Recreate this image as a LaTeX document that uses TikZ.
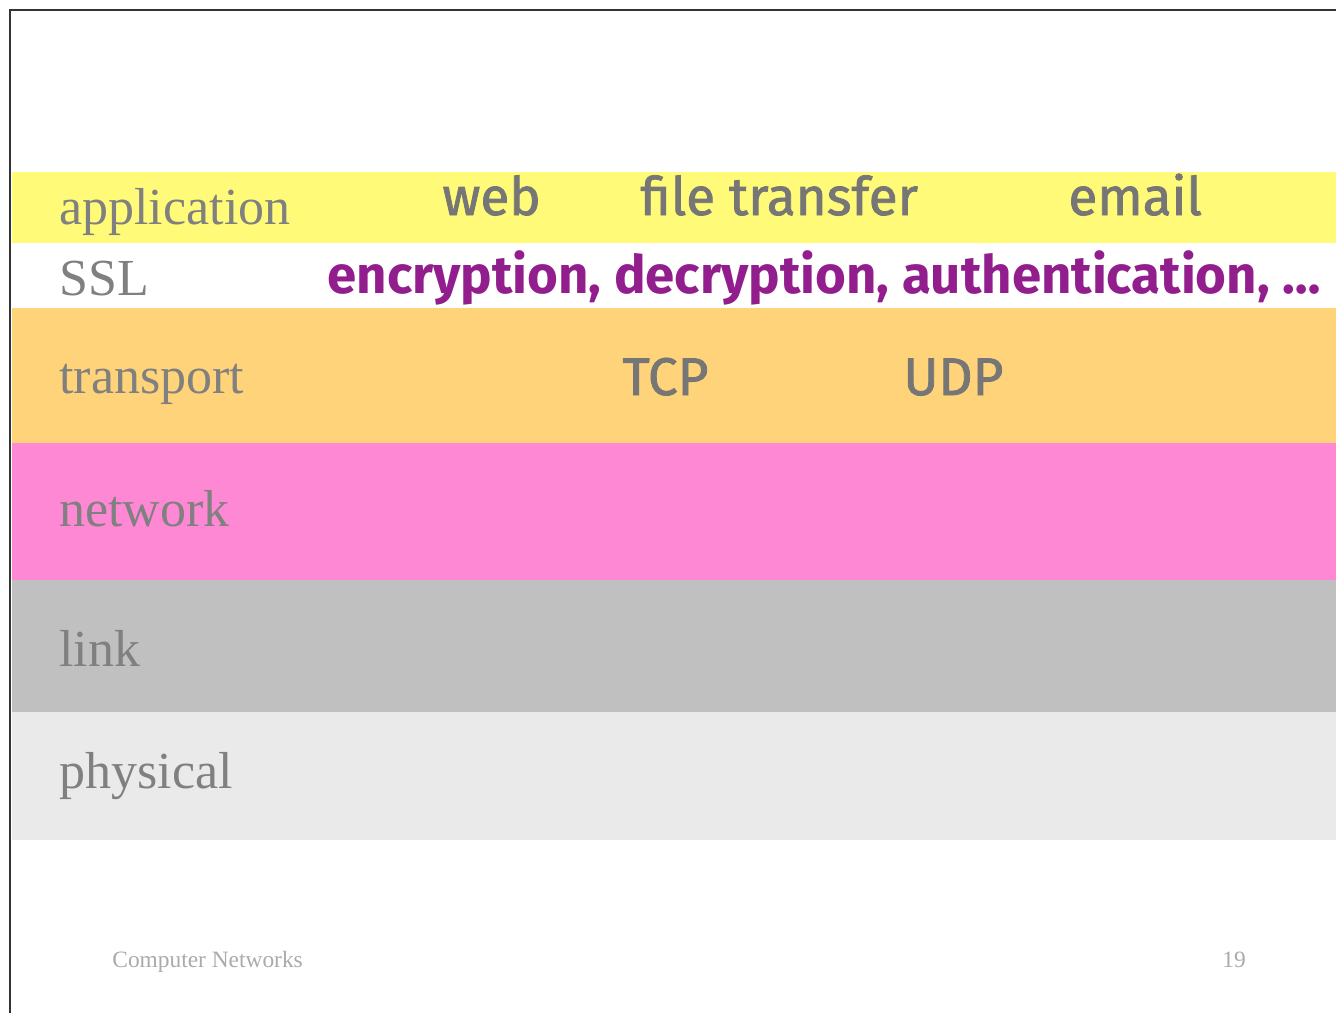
\documentclass[tikz,border=0pt]{standalone}
\usepackage{fontspec}
\setmainfont{Liberation Serif}
\newfontfamily\comicfont[FakeBold=1.5]{Fira Sans}
\newfontfamily\comicboldfont{Fira Sans}
\usetikzlibrary{positioning}
\definecolor{appyellow}{RGB}{255,250,120}
\definecolor{tporange}{RGB}{255,211,122}
\definecolor{netpink}{RGB}{255,136,213}
\definecolor{linkgray}{RGB}{192,192,192}
\definecolor{physgray}{RGB}{234,234,234}
\definecolor{labelgray}{RGB}{128,128,128}
\definecolor{protogray}{RGB}{118,118,118}
\definecolor{sslpurple}{RGB}{146,30,142}
\definecolor{footgray}{RGB}{170,170,170}
\tikzstyle{layer} = [anchor=base west, inner sep=0, text=labelgray, font=\fontsize{26}{28}\selectfont]
\tikzstyle{proto} = [anchor=base west, inner sep=0, text=protogray, font=\comicfont\fontsize{26.5}{28}\selectfont]
\tikzstyle{ssltext} = [anchor=base west, inner sep=0, text=sslpurple, font=\comicboldfont\bfseries\fontsize{26.4}{28}\selectfont]
\tikzstyle{footer} = [anchor=base west, inner sep=0, text=footgray, font=\fontsize{11.7}{13}\selectfont]

\begin{document}
\begin{tikzpicture}[x=0.5pt, y=-0.5pt]
    \useasboundingbox (0,0) rectangle (1336,1013);

    % layer bands
    \fill [appyellow] (12,172) rectangle (1336,243);
    \fill [tporange] (12,308) rectangle (1336,443);
    \fill [netpink] (12,443) rectangle (1336,580);
    \fill [linkgray] (12,580) rectangle (1336,712);
    \fill [physgray] (12,712) rectangle (1336,840);

    % slide frame
    \draw [black!80, line width=1pt] (10,1013) -- (10,10) -- (1336,10);

    \node (application) [layer] at (59,224) {application};
    \node (ssl) [layer] at (59,295) {SSL};
    \node (transport) [layer] at (59,393) {transport};
    \node (network) [layer] at (59,526) {network};
    \node (link) [layer] at (59,666) {link};
    \node (physical) [layer] at (59,788) {physical};

    \node (web) [proto] at (442,215) {web};
    \node (filetransfer) [proto] at (640,215) {file transfer};
    \node (email) [proto] at (1068,215) {email};
    \node (crypto) [ssltext] at (327,293) {encryption, decryption, authentication, \dots};
    \node (tcp) [proto] at (622,395) {TCP};
    \node (udp) [proto] at (903,395) {UDP};

    \node (course) [footer] at (112,967) {Computer Networks};
    \node (page) [footer] at (1222,967) {19};
\end{tikzpicture}
\end{document}
